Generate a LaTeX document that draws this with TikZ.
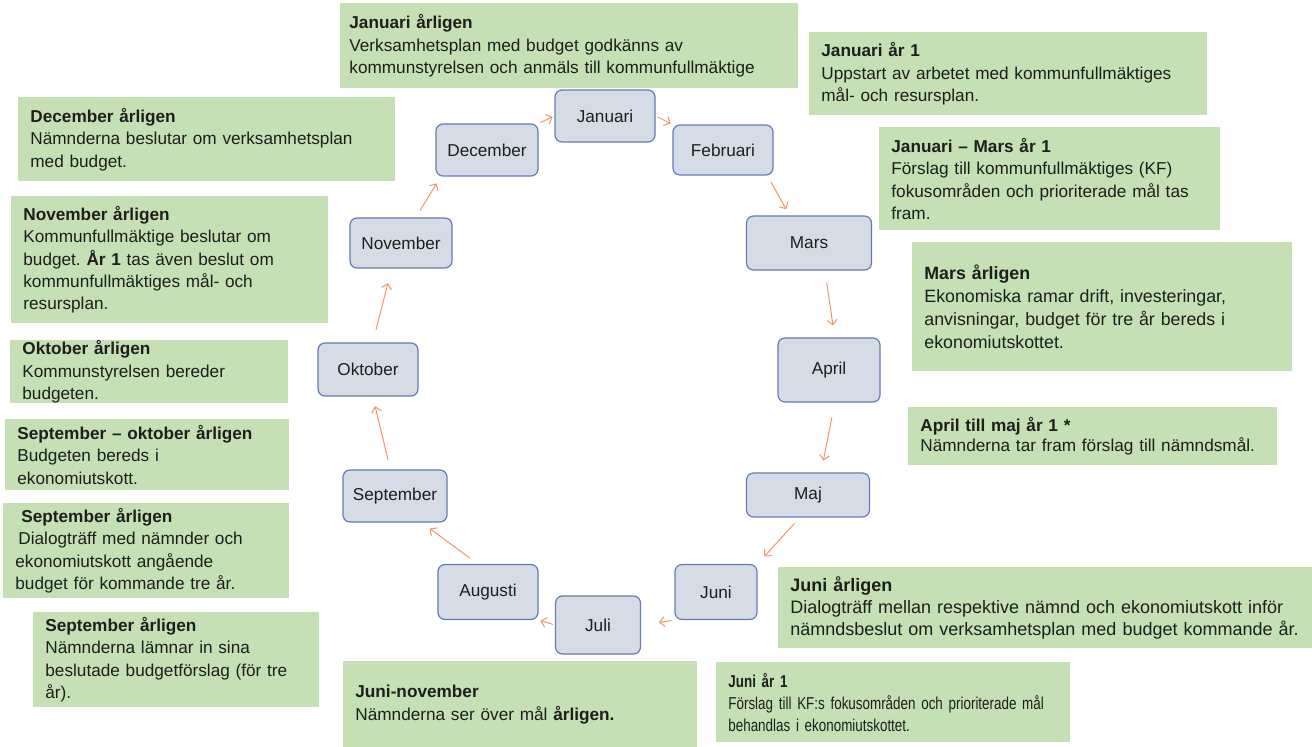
\documentclass[tikz,border=0pt]{standalone}
\usepackage{fontspec}
\setmainfont{Liberation Sans}
\newfontfamily\narrowsans[FakeStretch=0.78]{Liberation Sans}
\usetikzlibrary{arrows.meta}
\frenchspacing

\definecolor{boxgreen}{RGB}{197,224,180}
\definecolor{monthfill}{RGB}{214,220,230}
\definecolor{monthedge}{RGB}{100,125,180}
\definecolor{arrorange}{RGB}{240,150,100}
\definecolor{textdark}{RGB}{30,30,30}

\tikzset{
	info/.style={fill=boxgreen, anchor=north west, align=left, inner xsep=6pt, inner ysep=0pt,
		text=textdark, font=\fontsize{8.6pt}{11.2pt}\selectfont},
	month/.style={draw=monthedge, fill=monthfill, rounded corners=3.5pt, line width=0.6pt,
		inner sep=0pt, text=textdark, font=\fontsize{8.6pt}{11.2pt}\selectfont},
	cyc/.style={draw=arrorange, line width=0.5pt, -{Straight Barb[length=2.5pt,width=5pt]}}
}

\begin{document}
\begin{tikzpicture}[x=0.5pt,y=-0.5pt]
	\useasboundingbox (0,0) rectangle (1312,747);

	% Month boxes
	\node[month, minimum width=50pt, minimum height=26pt] (jan) at (605,116) {Januari};
	\node[month, minimum width=50pt, minimum height=25pt] (feb) at (723,150) {Februari};
	\node[month, minimum width=62.5pt, minimum height=27pt] (mars) at (809,243) {Mars};
	\node[month, minimum width=51pt, minimum height=32pt] (april) at (829,370) {April};
	\node[month, minimum width=61.5pt, minimum height=22pt] (maj) at (808,495) {Maj};
	\node[month, minimum width=41pt, minimum height=27.5pt] (juni) at (716,592) {Juni};
	\node[month, minimum width=42.5pt, minimum height=29pt] (juli) at (598,625) {Juli};
	\node[month, minimum width=50pt, minimum height=27.5pt] (aug) at (488,592) {Augusti};
	\node[month, minimum width=52pt, minimum height=26pt] (sep) at (395,496) {September};
	\node[month, minimum width=50pt, minimum height=26.5pt] (okt) at (368,369.5) {Oktober};
	\node[month, minimum width=51pt, minimum height=25pt] (nov) at (401,243) {November};
	\node[month, minimum width=51pt, minimum height=26pt] (dec) at (487,150) {December};

	% Cycle arrows
	\draw[cyc, shorten <=1pt, shorten >=1pt] (dec.north east) -- (jan.west);
	\draw[cyc, shorten <=1pt, shorten >=1pt] (jan.east) -- (feb.north west);
	\draw[cyc, shorten <=3.5pt, shorten >=3.5pt] (feb.-30) -- (mars.125);
	\draw[cyc, shorten <=6pt, shorten >=6pt] (mars.-60) -- (april.80);
	\draw[cyc, shorten <=7.5pt, shorten >=6pt] (april.-80) -- (maj.60);
	\draw[cyc, shorten <=4pt, shorten >=5pt] (maj.-110) -- (juni.north east);
	\draw[cyc, shorten <=1.5pt, shorten >=9pt] (juni.south west) -- (juli.east);
	\draw[cyc, shorten <=1pt, shorten >=1pt] (juli.west) -- (aug.south east);
	\draw[cyc, shorten <=5pt, shorten >=5pt] (aug.110) -- (sep.-45);
	\draw[cyc, shorten <=5pt, shorten >=5pt] (sep.100) -- (okt.-80);
	\draw[cyc, shorten <=6.5pt, shorten >=7.5pt] (okt.80) -- (nov.-110);
	\draw[cyc, shorten <=4pt, shorten >=4pt] (nov.60) -- (dec.-150);

	% Text boxes, right side
	\node[info, inner xsep=4.5pt, text width=220pt, minimum height=42.5pt] (janY) at (340,3)
		{\textbf{Januari årligen}\\Verksamhetsplan med budget godkänns av\\kommunstyrelsen  och anmäls till kommunfullmäktige};
	\node[info, text width=187pt, minimum height=41.5pt] (jan1) at (809,32)
		{\textbf{Januari år 1}\\Uppstart av arbetet med kommunfullmäktiges\\mål- och resursplan.};
	\node[info, text width=158.5pt, minimum height=51.5pt] (janmars) at (879,127)
		{\textbf{Januari -- Mars år 1}\\Förslag till kommunfullmäktiges  (KF)\\fokusområden och prioriterade mål tas\\fram.};
	\node[info, text width=178pt, minimum height=64.5pt, font=\fontsize{8.9pt}{11.4pt}\selectfont] (marsY) at (912,242)
		{\textbf{Mars årligen}\\Ekonomiska ramar drift, investeringar,\\anvisningar, budget för tre år bereds i\\ekonomiutskottet.};
	\node[info, text width=172.5pt, minimum height=29pt, font=\fontsize{8.6pt}{10pt}\selectfont] (aprmaj) at (908,407)
		{\textbf{April till maj år 1 *}\\Nämnderna tar fram förslag till nämndsmål.};
	\node[info, text width=255pt, minimum height=40.5pt, font=\fontsize{9pt}{11.2pt}\selectfont] (juniY) at (778,567)
		{\textbf{Juni årligen}\\Dialogträff mellan respektive nämnd och ekonomiutskott inför\\nämndsbeslut om verksamhetsplan med budget kommande år.};
	\node[info, text width=165pt, minimum height=40pt, font=\narrowsans\fontsize{8.6pt}{11pt}\selectfont] (juni1) at (716,662)
		{\textbf{Juni år 1}\\Förslag till KF:s fokusområden och prioriterade mål\\behandlas i ekonomiutskottet.};
	\node[info, text width=165pt, minimum height=43pt] (junnov) at (343,661)
		{\textbf{Juni-november}\\Nämnderna ser över mål \textbf{årligen.}};

	% Text boxes, left side
	\node[info, text width=176.5pt, minimum height=42pt] (decY) at (18,97)
		{\textbf{December årligen}\\Nämnderna beslutar om verksamhetsplan\\med budget.};
	\node[info, text width=146.5pt, minimum height=63.5pt] (novY) at (11,196)
		{\textbf{November årligen}\\Kommunfullmäktige beslutar om\\budget. \textbf{År 1} tas även beslut om\\kommunfullmäktiges mål- och\\resursplan.};
	\node[info, text width=127pt, minimum height=31.5pt] (oktY) at (10,340)
		{\textbf{Oktober årligen}\\Kommunstyrelsen bereder\\budgeten.};
	\node[info, text width=130pt, minimum height=35.5pt] (sepokt) at (5,419)
		{\textbf{September -- oktober årligen}\\Budgeten bereds i\\ekonomiutskott.};
	\node[info, text width=131pt, minimum height=47.5pt] (sep1) at (3,503)
		{\hspace*{3pt}\textbf{September årligen}\\\hspace*{1.5pt}Dialogträff med nämnder och\\ekonomiutskott angående\\budget för kommande tre år.};
	\node[info, text width=131pt, minimum height=47.5pt] (sep2) at (33,612)
		{\textbf{September årligen}\\Nämnderna lämnar in sina\\beslutade budgetförslag (för tre\\år).};

\end{tikzpicture}
\end{document}
